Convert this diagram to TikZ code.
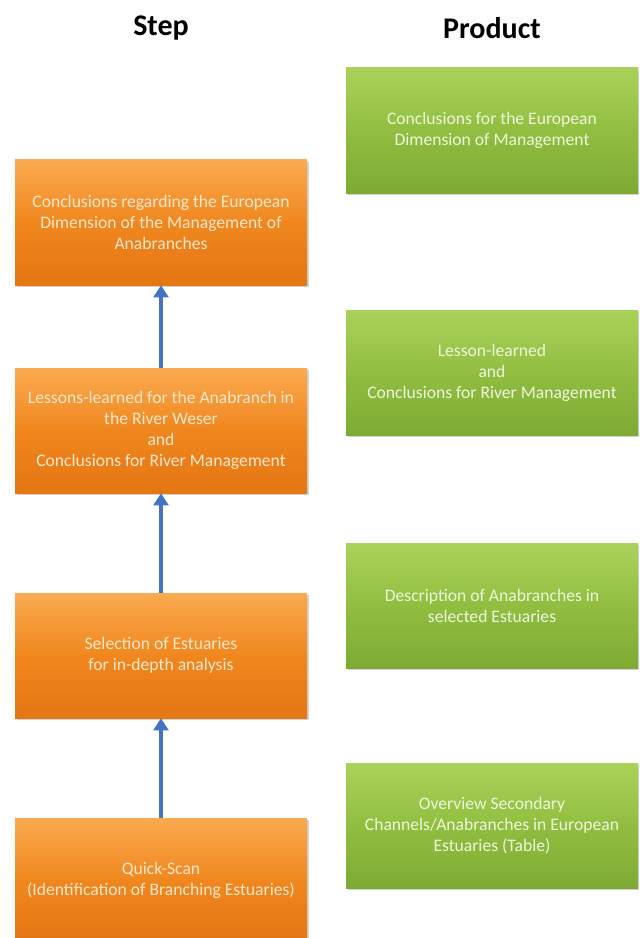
\documentclass[tikz,border=0pt]{standalone}
\usepackage{fontspec}
\setmainfont{Carlito}
\usetikzlibrary{shadows,arrows.meta}
\definecolor{orTop}{RGB}{250,170,80}
\definecolor{orMid}{RGB}{240,135,30}
\definecolor{orBot}{RGB}{228,118,20}
\definecolor{grTop}{RGB}{170,210,90}
\definecolor{grMid}{RGB}{145,190,65}
\definecolor{grBot}{RGB}{125,170,50}
\definecolor{arrowblue}{RGB}{68,114,196}
\definecolor{txtor}{RGB}{255,232,205}
\definecolor{txtgr}{RGB}{238,246,220}
\begin{document}
\begin{tikzpicture}[x=0.75pt,y=-0.75pt,
  box/.style={minimum width=219pt,minimum height=93.75pt,inner sep=0pt,align=center,
    font=\fontsize{13.2}{15.8}\selectfont,
    drop shadow={opacity=0.35,shadow xshift=1.5pt,shadow yshift=-1.5pt}},
  stepbox/.style={box,top color=orTop,bottom color=orBot,middle color=orMid,text=txtor},
  prodbox/.style={box,top color=grTop,bottom color=grBot,middle color=grMid,text=txtgr},
  head/.style={font=\fontsize{22.5}{26}\selectfont\bfseries},
  flow/.style={draw=arrowblue,line width=3pt,-{Triangle[length=9pt,width=11pt]}}]
\useasboundingbox (0,0) rectangle (639,938);
\clip (0,0) rectangle (639,938);
\node[head] (hstep) at (161,28) {Step};
\node[head] (hprod) at (492,28) {Product};
\node[stepbox] (s1) at (161,222.5) {Conclusions regarding the European\\Dimension of the Management of\\Anabranches};
\node[stepbox] (s2) at (161,430.5) {Lessons-learned for the Anabranch in\\the River Weser\\and\\Conclusions for River Management};
\node[stepbox] (s3) at (161,655.5) {Selection of Estuaries\\for in-depth analysis};
\node[stepbox] (s4) at (161,880.5) {Quick-Scan\\(Identification of Branching Estuaries)};
\node[prodbox] (p1) at (492,130.5) {Conclusions for the European\\Dimension of Management};
\node[prodbox] (p2) at (492,372.5) {Lesson-learned\\and\\Conclusions for River Management};
\node[prodbox] (p3) at (492,605.5) {Description of Anabranches in\\selected Estuaries};
\node[prodbox] (p4) at (492,825.5) {Overview Secondary\\Channels/Anabranches in European\\Estuaries (Table)};
\draw[flow] (s2.north) -- (s1.south);
\draw[flow] (s3.north) -- (s2.south);
\draw[flow] (s4.north) -- (s3.south);
\end{tikzpicture}
\end{document}
